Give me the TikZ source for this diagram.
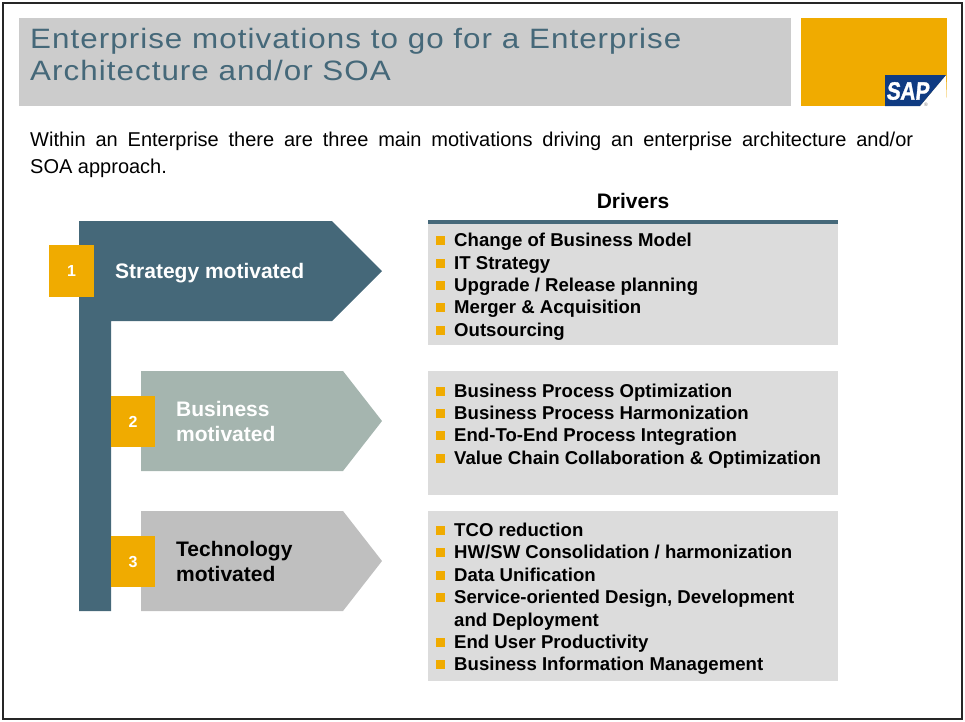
\documentclass[tikz,border=0pt]{standalone}
\usepackage{fontspec}
\setmainfont{Liberation Sans}
\newfontfamily\titlefont[LetterSpace=3.7,FakeStretch=1.12]{Liberation Sans}
\newfontfamily\sapfont[FakeBold=1.5,FakeSlant=0.12]{Liberation Sans Bold}
\definecolor{sapgold}{HTML}{F0AB00}
\definecolor{sapblue}{HTML}{456879}
\definecolor{sapsage}{HTML}{A5B5AF}
\definecolor{sapgrey}{HTML}{BFBFBF}
\definecolor{panelgrey}{HTML}{DCDCDC}
\definecolor{titlegrey}{HTML}{CCCCCC}
\definecolor{logoblue}{HTML}{0F3B82}
\tikzset{
    numbox/.style={fill=sapgold,text=white,inner sep=0pt,font=\fontsize{16}{16}\selectfont\bfseries},
    motive/.style={anchor=west,align=left,inner sep=0pt,font=\fontsize{21}{25}\selectfont\bfseries},
    driver/.style={anchor=base west,inner sep=0pt,font=\fontsize{18.6}{22}\selectfont\bfseries},
    bullet/.style={fill=sapgold,inner sep=0pt,minimum size=9pt},
}
\begin{document}
\begin{tikzpicture}[x=1pt,y=-1pt]
    \useasboundingbox (0,0) rectangle (965,721);
    \draw[line width=2.5pt,draw=black!85] (3,3) rectangle (962,719);

    % title bar and logo
    \fill[titlegrey] (19,18) rectangle (791,106);
    \node[anchor=north west,align=left,inner sep=0pt,text=sapblue,font=\fontsize{28}{32}\selectfont\titlefont] (title) at (30,28.5)
        {Enterprise motivations to go for a Enterprise\\Architecture and/or SOA};
    \fill[sapgold] (801,18) rectangle (947,106);
    \fill[white] (920,106) -- (946,75) -- (947,106) -- cycle;
    \fill[logoblue] (885,75) -- (946,75) -- (920,106) -- (885,106) -- cycle;
    \node[inner sep=0pt,xscale=0.83,text=white,font=\fontsize{25}{25}\selectfont\sapfont] (sap) at (907.5,91) {SAP};
    \node[inner sep=0pt,text=black!55,font=\fontsize{5}{5}\selectfont] (reg) at (926,105) {®};

    % intro
    \node[anchor=north west,text width=883pt,align=justify,inner sep=0pt,font=\fontsize{20}{27}\selectfont] (intro) at (30,132)
        {Within an Enterprise there are three main motivations driving an enterprise architecture and/or\linebreak SOA approach.};

    % arrows
    \fill[sapblue] (79,221) -- (332,221) -- (382,271) -- (332,321) -- (111,321) -- (111,611) -- (79,611) -- cycle;
    \fill[sapsage] (141,371) -- (343,371) -- (382,421) -- (343,471) -- (141,471) -- cycle;
    \fill[sapgrey] (141,511) -- (343,511) -- (382,561) -- (343,611) -- (141,611) -- cycle;

    \node[numbox,minimum width=45pt,minimum height=52pt] (1) at (71.5,271) {1};
    \node[numbox,minimum width=44pt,minimum height=51pt] (2) at (133,421.5) {2};
    \node[numbox,minimum width=44pt,minimum height=51pt] (3) at (133,561.5) {3};

    \node[motive,text=white] (strategy) at (115,273) {Strategy motivated};
    \node[motive,text=white] (business) at (176,421) {Business\\motivated};
    \node[motive,text=black] (technology) at (176,561) {Technology\\motivated};

    % drivers
    \node[inner sep=0pt,font=\fontsize{21}{21}\selectfont\bfseries] (drivers) at (633,201) {Drivers};
    \fill[panelgrey] (428,222) rectangle (838,345);
    \fill[panelgrey] (428,371) rectangle (838,495);
    \fill[panelgrey] (428,511) rectangle (838,681);
    \fill[sapblue] (428,220) rectangle (838,224);

    \foreach \ypos/\txt in {246/{Change of Business Model}, 269/{IT Strategy}, 291/{Upgrade / Release planning},
        313/{Merger \& Acquisition}, 336/{Outsourcing},
        397/{Business Process Optimization}, 419/{Business Process Harmonization},
        441/{End-To-End Process Integration}, 464/{Value Chain Collaboration \& Optimization},
        536/{TCO reduction}, 558/{HW/SW Consolidation / harmonization}, 581/{Data Unification},
        603/{Service-oriented Design, Development}, 648/{End User Productivity},
        670/{Business Information Management}}{
        \node[bullet] (b\ypos) at (440.5,\ypos-6) {};
        \node[driver] (d\ypos) at (454,\ypos) {\txt};
    }
    \node[driver] (deploy) at (454,626) {and Deployment};
\end{tikzpicture}
\end{document}
